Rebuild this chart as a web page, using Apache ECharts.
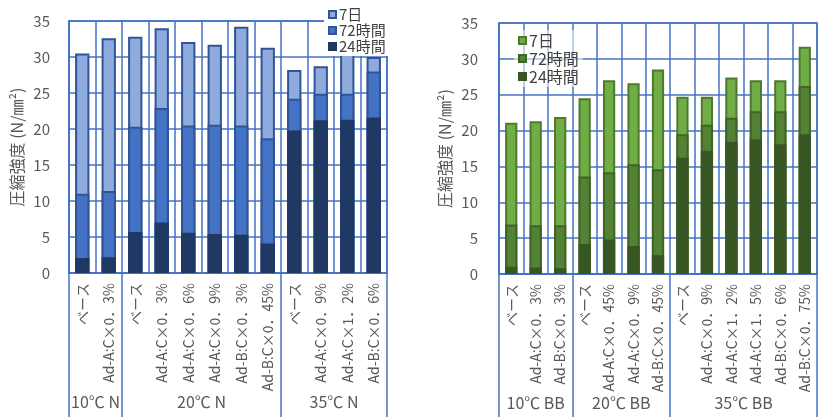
<!DOCTYPE html>
<html>
<head>
<meta charset="utf-8">
<script src="https://cdn.jsdelivr.net/npm/echarts@6/dist/echarts.min.js"></script>
<style>
  html, body { margin: 0; padding: 0; background: #fff; }
  #chart { width: 818px; height: 417px; }
</style>
</head>
<body>
<div id="chart"></div>
<script>
// ---- N (normal cement) specimens ----
const nCategories = ['ベース', 'Ad-A:C×0．3%', 'ベース', 'Ad-A:C×0．3%', 'Ad-A:C×0．6%', 'Ad-A:C×0．9%',
  'Ad-B:C×0．3%', 'Ad-B:C×0．45%', 'ベース', 'Ad-A:C×0．9%', 'Ad-A:C×1．2%', 'Ad-B:C×0．6%'];
const n7d  = [30.5, 32.6, 32.8, 34.0, 32.1, 31.7, 34.2, 31.3, 28.2, 28.7, 30.4, 30.0];
const n72h = [11.0, 11.4, 20.3, 22.9, 20.5, 20.6, 20.5, 18.7, 24.2, 24.9, 24.9, 28.0];
const n24h = [2.1, 2.2, 5.7, 7.0, 5.6, 5.4, 5.3, 4.1, 19.8, 21.2, 21.3, 21.6];
const nGroupNames = ['10℃ N', '20℃ N', '35℃ N'];
const nGroupSizes = [2, 6, 4];

// ---- BB (blast-furnace cement) specimens ----
const bbCategories = ['ベース', 'Ad-A:C×0．3%', 'Ad-B:C×0．3%', 'ベース', 'Ad-A:C×0．45%', 'Ad-A:C×0．9%',
  'Ad-B:C×0．45%', 'ベース', 'Ad-A:C×0．9%', 'Ad-A:C×1．2%', 'Ad-A:C×1．5%', 'Ad-B:C×0．6%', 'Ad-B:C×0．75%'];
const bb7d  = [21.1, 21.3, 21.9, 24.5, 27.0, 26.6, 28.5, 24.7, 24.7, 27.4, 27.0, 27.0, 31.7];
const bb72h = [6.9, 6.8, 6.8, 13.6, 14.2, 15.3, 14.6, 19.5, 20.8, 21.8, 22.7, 22.7, 26.2];
const bb24h = [1.0, 0.9, 0.8, 4.2, 4.8, 3.9, 2.6, 16.2, 17.2, 18.4, 18.8, 18.1, 19.5];
const bbGroupNames = ['10℃ BB', '20℃ BB', '35℃ BB'];
const bbGroupSizes = [3, 4, 6];

const ageNames = ['7日', '72時間', '24時間'];
const yTicks = { min: 0, max: 35, interval: 5 };

const FONT = '"Noto Sans CJK JP", "Noto Sans", sans-serif';
const GRID_BLUE = '#4472C4';
const TEXT = '#595959';

// group boundaries and centres along a 0..n value scale
function groupLayout(sizes) {
  const bounds = [0];
  const centres = [];
  sizes.forEach(s => {
    const start = bounds[bounds.length - 1];
    centres.push(start + s / 2);
    bounds.push(start + s);
  });
  return { bounds, centres };
}

const nLayout = groupLayout(nGroupSizes);
const bbLayout = groupLayout(bbGroupSizes);

function catAxis(gridIndex, cats) {
  return {
    type: 'category', gridIndex, data: cats,
    axisLine: { show: true, lineStyle: { color: GRID_BLUE, width: 1.5 } },
    axisTick: { show: false },
    splitLine: { show: true, lineStyle: { color: GRID_BLUE, width: 1.5 } },
    axisLabel: {
      interval: 0, rotate: 90, margin: 10,
      fontSize: 14, color: TEXT, fontFamily: FONT
    }
  };
}

function groupAxis(gridIndex, layout, names) {
  const total = layout.bounds[layout.bounds.length - 1];
  return {
    type: 'value', gridIndex, min: 0, max: total, position: 'bottom',
    axisLine: { show: false },
    splitLine: { show: false },
    axisTick: {
      show: true, customValues: layout.bounds, length: 144, inside: false,
      lineStyle: { color: GRID_BLUE, width: 1.5 }
    },
    axisLabel: {
      customValues: layout.centres, margin: 121,
      fontSize: 16, color: TEXT, fontFamily: FONT,
      formatter: v => names[layout.centres.indexOf(v)] || ''
    }
  };
}

function valueAxis(gridIndex, margin, nameGap) {
  return {
    type: 'value', gridIndex, min: yTicks.min, max: yTicks.max, interval: yTicks.interval,
    name: '圧縮強度 (N/㎜²)', nameLocation: 'middle', nameGap,
    nameTextStyle: { fontSize: 16, color: TEXT, fontFamily: FONT },
    axisLine: { show: true, lineStyle: { color: GRID_BLUE, width: 1.5 } },
    axisTick: { show: false },
    axisLabel: { fontSize: 15, color: TEXT, fontFamily: FONT, margin },
    splitLine: { lineStyle: { color: GRID_BLUE, width: 1.5 } }
  };
}

function bar(prefix, name, data, fill, border, xi, yi, width) {
  return {
    name: prefix + ':' + name, type: 'bar', data,
    xAxisIndex: xi, yAxisIndex: yi,
    barWidth: width, barGap: '-100%',
    itemStyle: { color: fill, borderColor: border, borderWidth: 2 },
    emphasis: { disabled: true },
    animation: false
  };
}

function legend(prefix, left, top, fontSize, lineHeight, bg) {
  return {
    orient: 'vertical', left, top,
    data: ageNames.map(a => prefix + ':' + a),
    formatter: n => n.split(':')[1],
    icon: 'rect', itemWidth: 7, itemHeight: 7, itemGap: 1,
    padding: [2, 4, 2, 4],
    backgroundColor: bg,
    selectedMode: false,
    textStyle: { fontSize, lineHeight, color: '#404040', fontFamily: FONT, padding: [0, 0, 0, -2] }
  };
}

const chart = echarts.init(document.getElementById('chart'), null, { renderer: 'canvas' });

chart.setOption({
  backgroundColor: '#fff',
  animation: false,
  textStyle: { fontFamily: FONT },
  grid: [
    { left: 69, right: 431, top: 21, bottom: 144, show: true, borderColor: GRID_BLUE, borderWidth: 1.5 },
    { left: 499, right: 1, top: 23, bottom: 143, show: true, borderColor: GRID_BLUE, borderWidth: 1.5 }
  ],
  xAxis: [
    catAxis(0, nCategories),
    catAxis(1, bbCategories),
    groupAxis(0, nLayout, nGroupNames),
    groupAxis(1, bbLayout, bbGroupNames)
  ],
  yAxis: [valueAxis(0, 19, 44), valueAxis(1, 21, 46)],
  legend: [
    legend('N', 324, 5, 15, 15, '#fff'),
    legend('BB', 514, 30, 16, 17, 'rgba(255,255,255,0.55)')
  ],
  series: [
    bar('N', ageNames[0], n7d,  '#8FAADC', '#2F5597', 0, 0, '54%'),
    bar('N', ageNames[1], n72h, '#4472C4', '#2F5597', 0, 0, '54%'),
    bar('N', ageNames[2], n24h, '#1F3864', '#1F3864', 0, 0, '54%'),
    bar('BB', ageNames[0], bb7d,  '#70AD47', '#4E7A2E', 1, 1, '50%'),
    bar('BB', ageNames[1], bb72h, '#548235', '#3F6427', 1, 1, '50%'),
    bar('BB', ageNames[2], bb24h, '#375623', '#375623', 1, 1, '50%')
  ]
});
</script>
</body>
</html>
